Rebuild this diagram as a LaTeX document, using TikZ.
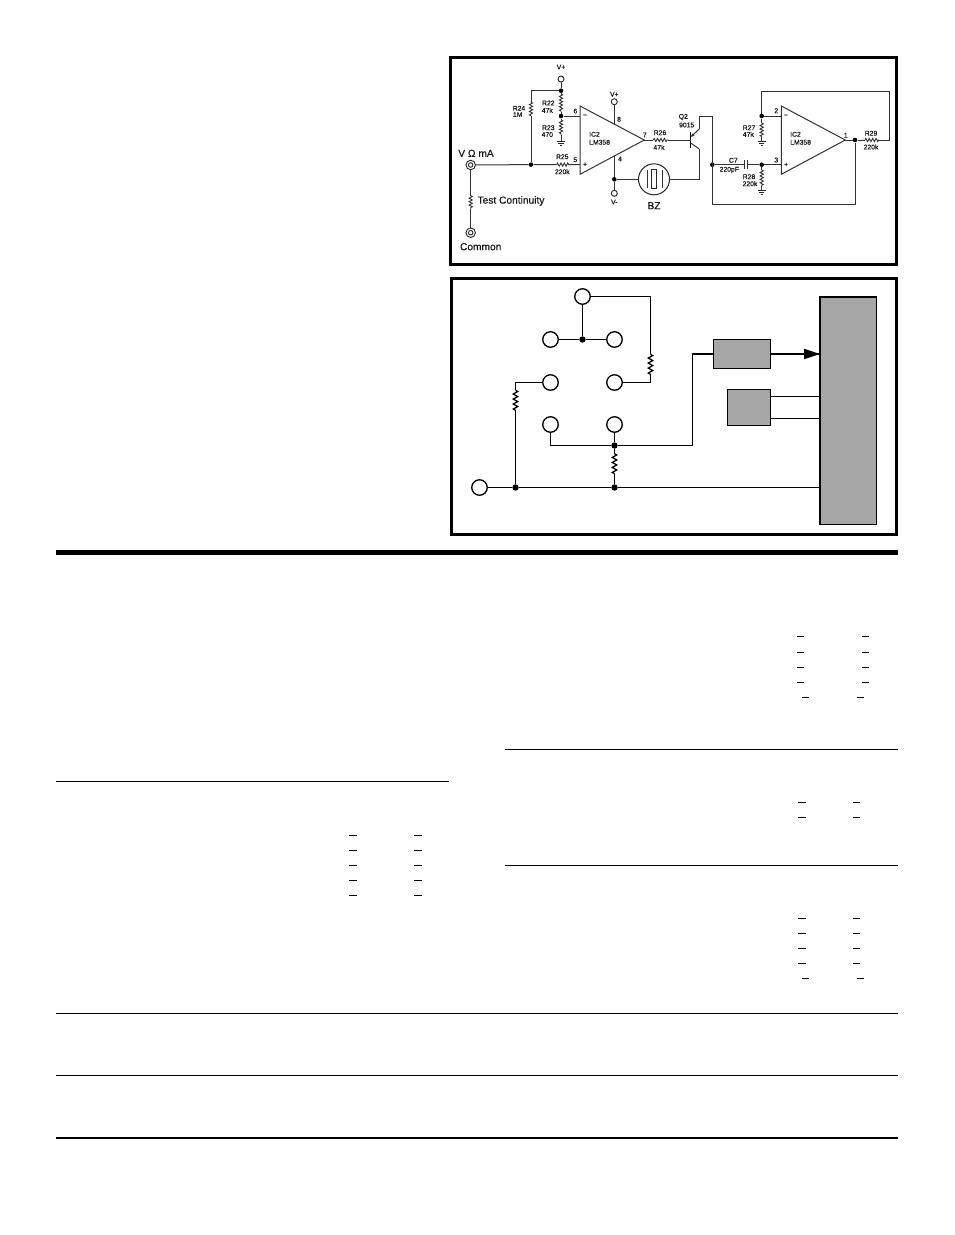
\documentclass[tikz,border=0pt]{standalone}
\usepackage{fontspec}
\setmainfont{Liberation Sans}
\newfontfamily\fakeb[FakeBold=0.5]{Liberation Sans}
\usetikzlibrary{decorations.pathmorphing,arrows.meta}
\tikzset{
  x=1pt,y=-1pt,
  frame/.style={draw=black,line width=3pt,fill=white,outer sep=0pt},
  wire/.style={draw=black!80,line width=1pt},
  wireB/.style={draw=black,line width=1.5pt},
  zig/.style={draw=black!80,line width=.9pt,decorate,decoration={zigzag,amplitude=1.6pt,segment length=3.4pt}},
  zigB/.style={draw=black,line width=1.3pt,decorate,decoration={zigzag,amplitude=2.2pt,segment length=5pt}},
  dot/.style={circle,fill=black,inner sep=0pt,minimum size=4.6pt},
  dotB/.style={circle,fill=black,inner sep=0pt,minimum size=6.4pt},
  term/.style={circle,draw=black!85,line width=.9pt,fill=white,inner sep=0pt,minimum size=6pt},
  jack/.style={circle,draw=black!85,line width=.9pt,fill=white,inner sep=0pt,minimum size=9.5pt},
  jackin/.style={circle,draw=black!85,line width=.9pt,inner sep=0pt,minimum size=4.5pt},
  port/.style={circle,draw=black,line width=1.3pt,fill=white,inner sep=0pt,minimum size=15.5pt},
  amp/.style={draw=black!80,line width=1pt,fill=white},
  block/.style={draw=black,line width=1.2pt,fill=black!35,outer sep=0pt},
  tiny/.style={inner sep=0pt,font=\fakeb\fontsize{6.8}{7}\selectfont,text=black!90},
  big/.style={inner sep=0pt,font=\fakeb\fontsize{10.2}{11}\selectfont,text=black!90},
  rule/.style={draw=black,line width=1.2pt},
  dashmark/.style={draw=black,line width=1pt},
  gnd/.style={draw=black!85,line width=.8pt}
}
\newcommand{\Gnd}[2]{\draw[gnd] (#1-4,#2)--(#1+4,#2) (#1-2.6,#2+2)--(#1+2.6,#2+2) (#1-1.2,#2+4)--(#1+1.2,#2+4);}
\begin{document}
\begin{tikzpicture}
\useasboundingbox (0,0) rectangle (954,1235);
\fill[white] (0,0) rectangle (954,1235);
% ---------- frames
\node[frame,minimum width=446pt,minimum height=207pt,inner sep=0pt,anchor=north west] (frameA) at (450.5,57.5) {};
\node[frame,minimum width=445.2pt,minimum height=256pt,inner sep=0pt,anchor=north west] (frameB) at (451.5,278.5) {};

% ---------- upper circuit: amplifiers
\draw[amp] (580,106)--(580,174.3)--(644.3,140)--cycle;
\draw[amp] (781.3,106)--(781.3,174.3)--(845.3,140)--cycle;
\coordinate (out1) at (644.3,140);
\coordinate (out2) at (845.3,140);
\coordinate (pin6) at (580,116);
\coordinate (pin5) at (580,164.6);
\coordinate (pin2) at (781.3,116);
\coordinate (pin3) at (781.3,164.7);
\coordinate (pin8) at (614.3,124);
\coordinate (pin4) at (614.3,156);

% terminals
\node[jack] (vom) at (470.7,165) {};
\node[jackin] (vomi) at (470.7,165) {};
\node[jack] (com) at (470.7,232.7) {};
\node[jackin] (comi) at (470.7,232.7) {};
\node[term] (vp1) at (561,79) {};
\node[term] (vp2) at (614.3,101.7) {};
\node[term] (vm) at (614.3,193.3) {};
% junctions
\node[dot] (j1) at (531,164.6) {};
\node[dot] (j2) at (561,90.7) {};
\node[dot] (j3) at (561,116) {};
\node[dot] (j4) at (614.3,179.3) {};
\node[dot] (j5) at (712.3,164.7) {};
\node[dot] (j6) at (761.7,164.7) {};
\node[dot] (j7) at (761.7,116) {};
\node[dot] (j8) at (855,140) {};

% test resistor
\coordinate (ra1) at (470.7,195.7); \coordinate (ra2) at (470.7,209);
\draw[wire] (vom)--(ra1) (ra2)--(com);
\draw[zig] (ra1)--(ra2);
% input
\coordinate (r25a) at (556.7,164.6); \coordinate (r25b) at (570,164.6);
\draw[wire] (vom)--(j1)--(r25a) (r25b)--(pin5);
\draw[zig] (r25a)--(r25b);
% R24
\coordinate (t24) at (531,90.7);
\coordinate (r24a) at (531,115.7); \coordinate (r24b) at (531,101.7);
\draw[wire] (j1)--(r24a) (r24b)--(t24)--(j2);
\draw[zig] (r24a)--(r24b);
% divider
\coordinate (r22a) at (561,94); \coordinate (r22b) at (561,112);
\coordinate (r23a) at (561,120); \coordinate (r23b) at (561,135);
\coordinate (g23) at (561,141);
\draw[wire] (vp1)--(j2)--(r22a) (r22b)--(j3)--(r23a) (r23b)--(g23) (j3)--(pin6);
\draw[zig] (r22a)--(r22b);
\draw[zig] (r23a)--(r23b);
\Gnd{561}{141}
% supply
\draw[wire] (vp2)--(pin8) (pin4)--(j4)--(vm);
% buzzer
\node[circle,draw=black!85,line width=1pt,fill=white,inner sep=0pt,minimum size=31pt] (bz) at (654,179.3) {};
\draw[wire] (j4)--(bz);
\node[draw=black!85,line width=1pt,inner sep=0pt,minimum width=5.5pt,minimum height=19pt] (bzc) at (654,179.3) {};
\draw[wire] (647,170.3)--(647,188.3) (662,170.3)--(662,188.3);
% transistor
\coordinate (b1) at (690.7,132.3); \coordinate (b2) at (690.7,148.3);
\coordinate (base) at (690.7,140);
\coordinate (coll) at (699.3,129); \coordinate (emit) at (699.3,149);
\coordinate (collb) at (690.7,137); \coordinate (emitb) at (690.7,143);
\draw[draw=black,line width=1.2pt] (b1)--(b2);
\draw[wire,-{Latex[length=3.5pt,width=3.5pt]}] (coll)--(collb);
\draw[wire] (emitb)--(emit);
\coordinate (c1) at (699.3,116); \coordinate (c2) at (712.3,116);
\coordinate (e1) at (699.3,179.3);
\draw[wire] (coll)--(c1)--(c2)--(j5);
\draw[wire] (emit)--(e1)--(bz);
% R26
\coordinate (r26a) at (653.3,140); \coordinate (r26b) at (668.3,140);
\draw[wire] (out1)--(r26a) (r26b)--(base);
\draw[zig] (r26a)--(r26b);
% feedback to second stage
\coordinate (f1) at (712.3,204.3); \coordinate (f2) at (855,204.3);
\draw[wire] (c2)--(f1)--(f2)--(j8);
% C7
\coordinate (c7a) at (744,164.7); \coordinate (c7b) at (747.3,164.7);
\draw[wire] (j5)--(c7a) (c7b)--(j6)--(pin3);
\draw[wire] (744,160)--(744,169.3) (747.3,160)--(747.3,169.3);
% R28
\coordinate (r28a) at (761.7,170); \coordinate (r28b) at (761.7,186);
\coordinate (g28) at (761.7,190);
\draw[wire] (j6)--(r28a) (r28b)--(g28);
\draw[zig] (r28a)--(r28b);
\Gnd{761.7}{190}
% R27
\coordinate (r27a) at (761.7,123); \coordinate (r27b) at (761.7,136.7);
\coordinate (g27) at (761.7,141);
\draw[wire] (j7)--(r27a) (r27b)--(g27) (j7)--(pin2);
\draw[zig] (r27a)--(r27b);
\Gnd{761.7}{141}
% output loop
\coordinate (r29a) at (865,140); \coordinate (r29b) at (879,140);
\coordinate (l1) at (889.3,140); \coordinate (l2) at (889.3,91); \coordinate (l3) at (761.7,91);
\draw[wire] (out2)--(j8)--(r29a) (r29b)--(l1)--(l2)--(l3)--(j7);
\draw[zig] (r29a)--(r29b);

% labels
\node[big] (tVOM) at (476,153.3) {V Ω mA};
\node[big] (tTC) at (511,201) {Test Continuity};
\node[big] (tCom) at (480.7,246.7) {Common};
\node[big] (tBZ) at (654,205.7) {BZ};
\node[tiny] (l1a) at (561,67) {V+};
\node[tiny] (l2a) at (614.3,94.3) {V+};
\node[tiny] (l3a) at (614.3,202) {V-};
\node[tiny] at (519,108.3) {R24};
\node[tiny] at (517.7,114.6) {1M};
\node[tiny] at (548.3,103) {R22};
\node[tiny] at (547.3,110.3) {47k};
\node[tiny] at (548.3,127.7) {R23};
\node[tiny] at (547.3,134.6) {470};
\node[tiny] at (562.3,156.7) {R25};
\node[tiny] at (562.3,171.7) {220k};
\node[tiny] at (575.3,111) {6};
\node[tiny] at (575.3,159.7) {5};
\node[tiny] at (585,116) {−};
\node[tiny] at (585,164.6) {+};
\node[tiny,anchor=west] at (589,134.3) {IC2};
\node[tiny,anchor=west] at (589,142.3) {LM358};
\node[tiny] at (619,119.3) {8};
\node[tiny] at (620,159) {4};
\node[tiny] at (644.7,135) {7};
\node[tiny] at (660,132.7) {R26};
\node[tiny] at (659,147.3) {47k};
\node[tiny] at (683.3,117) {Q2};
\node[tiny] at (686.7,125) {9015};
\node[tiny] at (776.3,110.7) {2};
\node[tiny] at (776.3,160) {3};
\node[tiny] at (786,116) {−};
\node[tiny] at (786,164.7) {+};
\node[tiny,anchor=west] at (790,134.3) {IC2};
\node[tiny,anchor=west] at (790,142.3) {LM358};
\node[tiny] at (845.7,135.3) {1};
\node[tiny] at (871,133.3) {R29};
\node[tiny] at (871,147) {220k};
\node[tiny] at (749,127.7) {R27};
\node[tiny] at (748.3,134.3) {47k};
\node[tiny] at (749,176.7) {R28};
\node[tiny] at (750,183.7) {220k};
\node[tiny] at (733.3,160.3) {C7};
\node[tiny] at (729.3,170) {220pF};

% ---------- lower diagram
\node[block,inner sep=0pt,minimum width=56.7pt,minimum height=227.7pt,anchor=north west] (mcu) at (820,297) {};
\node[block,inner sep=0pt,minimum width=57.4pt,minimum height=29pt,anchor=north west] (box1) at (713.3,339.5) {};
\node[block,inner sep=0pt,minimum width=42.6pt,minimum height=36pt,anchor=north west] (box2) at (727.7,389.3) {};
\node[port] (p0) at (582.5,296.5) {};
\node[port] (p1) at (550.5,339.5) {};
\node[port] (p2) at (614.5,339.5) {};
\node[port] (p3) at (550.5,382.5) {};
\node[port] (p4) at (614.5,382.5) {};
\node[port] (p5) at (550.5,424.5) {};
\node[port] (p6) at (614.5,424.5) {};
\node[port] (p7) at (479.5,487.5) {};
\node[dotB] (k1) at (582.5,339.5) {};
\node[dotB] (k2) at (614.5,445.5) {};
\node[dotB] (k3) at (614.5,487.5) {};
\node[dotB] (k4) at (515.5,487.5) {};

\draw[wireB] (p0)--(k1) (p1)--(k1)--(p2);
\coordinate (a1) at (650.5,296.5); \coordinate (a2) at (650.5,354.3); \coordinate (a3) at (650.5,375.3); \coordinate (a4) at (650.5,382.5);
\draw[wireB] (p0)--(a1)--(a2) (a3)--(a4)--(p4);
\draw[zigB] (a2)--(a3);
\coordinate (b4) at (515.5,382.5); \coordinate (b5) at (515.5,390.3); \coordinate (b6) at (515.5,410.3);
\draw[wireB] (p3)--(b4)--(b5) (b6)--(k4);
\draw[zigB] (b5)--(b6);
\coordinate (mL) at (820,487.5);
\draw[wireB] (p7)--(k4)--(k3)--(mL);
\coordinate (d1) at (614.5,453.7); \coordinate (d2) at (614.5,473.7);
\draw[wireB] (p6)--(k2)--(d1) (d2)--(k3);
\draw[zigB] (d1)--(d2);
\coordinate (g1) at (550.5,445.5); \coordinate (g2) at (692.5,445.5); \coordinate (g3) at (692.5,354);
\draw[wireB] (p5)--(g1)--(k2)--(g2)--(g3)--(box1.west);
\coordinate (mA) at (820,354);
\draw[wireB] (box1.east)--(mA);
\fill[black] (804,348.7)--(820,354)--(804,359.3)--cycle;
\coordinate (h1) at (770.3,396.5); \coordinate (h2) at (820,396.5);
\coordinate (h3) at (770.3,418.5); \coordinate (h4) at (820,418.5);
\draw[wireB] (h1)--(h2) (h3)--(h4);

% ---------- rules
\fill[black] (56,549.5) rectangle (898,555);
\draw[rule] (505,749.5)--(898,749.5);
\draw[rule] (56,781.5)--(449,781.5);
\draw[rule] (505,865.5)--(898,865.5);
\draw[rule] (56,1013.5)--(898,1013.5);
\draw[rule] (56,1075.5)--(898,1075.5);
\draw[draw=black,line width=2pt] (56,1138)--(898,1138);

% ---------- short dashes
\foreach \y in {636.5,652.5,667.5,682.5}{\draw[dashmark] (797,\y)--(804,\y) (862,\y)--(869,\y);}
\draw[dashmark] (802,697.5)--(809,697.5) (857,697.5)--(864,697.5);
\foreach \y in {835.5,850.5,865.5,880.5,895.5}{\draw[dashmark] (349.3,\y)--(357,\y) (414.3,\y)--(422,\y);}
\foreach \y in {802.5,817.5,918.5,933.5,948.5,963.5}{\draw[dashmark] (798,\y)--(806,\y) (853,\y)--(860,\y);}
\draw[dashmark] (802,978.5)--(809,978.5) (857,978.5)--(864,978.5);
\end{tikzpicture}
\end{document}
